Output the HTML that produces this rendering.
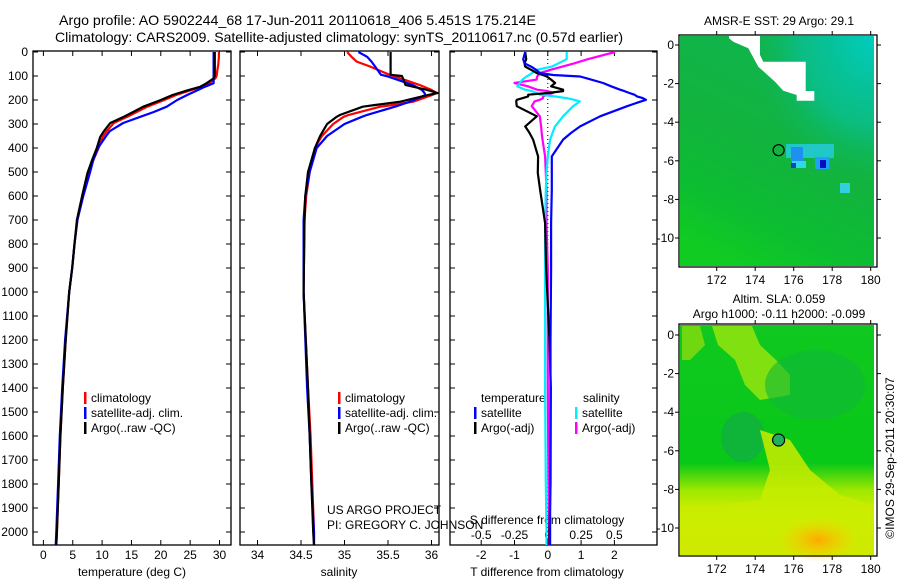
<!DOCTYPE html>
<html><head><meta charset="utf-8"><style>
html,body{margin:0;padding:0;background:#fff;}
svg{display:block;font-family:"Liberation Sans",sans-serif;}
</style></head><body>
<svg id="fig" width="900" height="580" viewBox="0 0 900 580" xmlns="http://www.w3.org/2000/svg">
<defs>
<clipPath id="c1"><rect x="33" y="45" width="198" height="500"/></clipPath>
<clipPath id="c2"><rect x="240" y="45" width="199" height="500"/></clipPath>
<clipPath id="c3"><rect x="450" y="45" width="207" height="500"/></clipPath>
<linearGradient id="sstg" x1="0.7" y1="0" x2="0.3" y2="1">
<stop offset="0" stop-color="#10b450"/><stop offset="0.5" stop-color="#12b43e"/><stop offset="0.8" stop-color="#0cbe30"/><stop offset="1" stop-color="#10cc22"/></linearGradient>
<radialGradient id="teal" cx="1" cy="0" r="0.65"><stop offset="0" stop-color="#00ccc0"/><stop offset="0.6" stop-color="#08c098" stop-opacity="0.7"/><stop offset="1" stop-color="#10b450" stop-opacity="0"/></radialGradient>
<linearGradient id="slag" x1="0" y1="0" x2="0" y2="1">
<stop offset="0" stop-color="#10c820"/><stop offset="0.6" stop-color="#08c818"/><stop offset="0.72" stop-color="#a0e800"/><stop offset="0.85" stop-color="#e0f000"/><stop offset="1" stop-color="#f0d800"/></linearGradient>
<radialGradient id="org" cx="0.5" cy="0.5" r="0.5"><stop offset="0" stop-color="#ffa800"/><stop offset="1" stop-color="#ffd000" stop-opacity="0"/></radialGradient>
</defs>
<rect width="900" height="580" fill="#fff"/>
<text x="59" y="25" font-size="14" textLength="477" lengthAdjust="spacingAndGlyphs">Argo profile: AO 5902244_68 17-Jun-2011 20110618_406 5.451S 175.214E</text>
<text x="55" y="42" font-size="14" textLength="568" lengthAdjust="spacingAndGlyphs">Climatology: CARS2009. Satellite-adjusted climatology: synTS_20110617.nc (0.57d earlier)</text>
<g id="axes"></g>
<g id="lines"></g>
<g id="maps"></g>
</svg>
<script>
// ---- data ----
const depthT = [0,20,50,80,100,110,130,145,160,179,200,228,250,270,296,330,353,400,450,505,600,700,800,900,1000,1200,1400,1600,1800,2000,2055];
const tempClim = [29.9,29.9,29.8,29.6,29.5,29.3,28.2,27.0,25.0,22.6,20.6,17.7,15.9,14.3,12.0,10.8,10.1,9.4,8.5,7.6,6.7,5.8,5.3,4.9,4.4,3.8,3.3,2.9,2.6,2.3,2.2];
const tempSat = [29.0,29.0,29.0,29.0,29.0,29.0,29.0,27.5,26.2,24.5,22.8,21.0,18.8,16.5,13.6,11.3,10.6,9.3,8.5,7.9,6.8,5.8,5.3,4.9,4.4,3.7,3.2,2.8,2.5,2.2,2.1];
const tempArgo = [29.2,29.2,29.2,29.2,29.2,29.0,27.8,26.7,24.5,22.0,20.0,17.0,15.3,13.7,11.4,10.3,9.7,9.1,8.3,7.5,6.6,5.7,5.3,4.9,4.4,3.8,3.3,2.9,2.6,2.3,2.2];

const depthS = [0,20,40,60,95,100,117,137,158,171,180,207,221,228,262,270,300,350,400,500,600,700,1000,1400,1600,1800,2000,2055];
const salClim = [35.03,35.08,35.14,35.29,35.52,35.56,35.70,35.86,36.00,36.06,36.00,35.79,35.55,35.41,35.05,34.99,34.87,34.74,34.66,34.60,34.56,34.54,34.53,34.58,34.61,34.63,34.65,34.65];
const salSat = [35.16,35.26,35.31,35.35,35.42,35.48,35.62,35.78,35.89,35.92,35.93,35.75,35.64,35.58,35.26,35.20,35.00,34.80,34.68,34.60,34.55,34.53,34.53,34.57,34.60,34.62,34.65,34.65];
const salArgo = [35.53,35.53,35.53,35.53,35.53,35.66,35.68,35.70,35.95,36.07,35.95,35.64,35.35,35.21,34.95,34.91,34.80,34.72,34.66,34.58,34.55,34.54,34.53,34.58,34.60,34.62,34.64,34.65];

const depthD = [0,30,47,61,74,88,96,102,115,129,143,157,163,171,178,185,192,199,206,226,268,310,337,365,435,504,574,713,900,1200,1400,1800,2000,2055];
const dTSat = [-0.68,-0.74,-0.7,-0.5,-0.35,-0.23,0.16,0.97,1.3,1.66,1.9,2.17,2.3,2.45,2.6,2.68,2.85,2.95,2.8,2.38,1.57,0.97,0.7,0.46,0.12,0.12,0.12,0.1,0.1,0.08,0.08,0.07,0.07,0.07];
const dTArgo = [-0.68,-0.65,-0.7,-0.68,-0.5,-0.33,-0.15,-0.03,0.1,0.22,0.1,0.46,0.46,0.0,-0.59,-0.59,-0.75,-0.93,-0.95,-0.93,-0.33,-0.68,-0.55,-0.44,-0.29,-0.3,-0.23,-0.08,-0.05,0.05,0.09,0.08,0.05,0.05];
const dSSat = [0.142,0.142,0.08,0.03,-0.083,-0.12,-0.14,-0.16,-0.19,-0.21,-0.23,-0.17,-0.12,-0.08,-0.06,0.05,0.14,0.2,0.24,0.19,0.115,0.054,0.035,0.017,0.0,-0.01,-0.015,-0.02,-0.02,-0.02,-0.02,-0.015,-0.01,-0.01];
const dSArgo = [0.505,0.3,0.2,0.11,0.02,-0.06,-0.07,-0.08,-0.083,-0.25,-0.15,-0.08,0.0,0.04,0.0,-0.036,-0.036,-0.06,-0.1,-0.12,-0.06,-0.05,-0.046,-0.04,-0.02,-0.015,-0.01,-0.01,0,0,0,0.005,0.01,0.01];

const depthTicks = [0,100,200,300,400,500,600,700,800,900,1000,1100,1200,1300,1400,1500,1600,1700,1800,1900,2000];
const tempTicks = [0,5,10,15,20,25,30];
const salTicks = [34,34.5,35,35.5,36];
const salTickLabels = ["34","34.5","35","35.5","36"];
const tdTicks = [-2,-1,0,1,2];
const sdTicks = [-0.5,-0.25,0,0.25,0.5];
const sdTickLabels = ["-0.5","-0.25","0","0.25","0.5"];
const lonTicks = [172,174,176,178,180];
const latTicks = [0,-2,-4,-6,-8,-10];

// ---- scales ----
const yD = d => 52 + d*0.24;
const xT = t => 43.4 + t*5.87;
const xS = s => 257.5 + (s-34)*87;
const xTD = v => 547.8 + v*33.3;
const xSD = v => 547.8 + v*133.2;
const NS = "http://www.w3.org/2000/svg";
function mk(tag, attrs, parent){ const e=document.createElementNS(NS,tag); for(const k in attrs) e.setAttribute(k,attrs[k]); parent.appendChild(e); return e; }
const axes = document.getElementById('axes');
const lines = document.getElementById('lines');
const maps = document.getElementById('maps');

function txt(x,y,s,size,anchor,parent,name){ const t=mk('text',{x:x,y:y,'font-size':size,'text-anchor':anchor||'start'},parent); t.textContent=s;
  
  
  return t; }

const panels = [[33,231,'c1','temperature-panel'],[240,439,'c2','salinity-panel'],[450,657,'c3','difference-panel']];
panels.forEach(p=>{
  const r = mk('rect',{x:p[0],y:51,width:p[1]-p[0],height:494,fill:'none',stroke:'#000','stroke-width':1.3},axes);
  
  
  depthTicks.forEach(d=>{
    mk('line',{x1:p[0],x2:p[0]+5,y1:yD(d),y2:yD(d),stroke:'#000'},axes);
    mk('line',{x1:p[1]-5,x2:p[1],y1:yD(d),y2:yD(d),stroke:'#000'},axes);
  });
});
depthTicks.forEach(d=>{ txt(28, yD(d)+4, String(d), 12, 'end', axes, 'depth-tick-label'); });
tempTicks.forEach(t=>{
  mk('line',{x1:xT(t),x2:xT(t),y1:51,y2:56,stroke:'#000'},axes);
  mk('line',{x1:xT(t),x2:xT(t),y1:540,y2:545,stroke:'#000'},axes);
  txt(xT(t), 559, String(t), 12, 'middle', axes, 'temperature-tick-label');
});
salTicks.forEach((s,i)=>{
  mk('line',{x1:xS(s),x2:xS(s),y1:51,y2:56,stroke:'#000'},axes);
  mk('line',{x1:xS(s),x2:xS(s),y1:540,y2:545,stroke:'#000'},axes);
  txt(xS(s), 559, salTickLabels[i], 12, 'middle', axes, 'salinity-tick-label');
});
tdTicks.forEach(t=>{
  mk('line',{x1:xTD(t),x2:xTD(t),y1:51,y2:56,stroke:'#000'},axes);
  mk('line',{x1:xTD(t),x2:xTD(t),y1:540,y2:545,stroke:'#000'},axes);
  txt(xTD(t), 559, String(t), 12, 'middle', axes, 't-diff-tick-label');
});
sdTicks.forEach((s,i)=>{ txt(xSD(s), 539, sdTickLabels[i], 12, 'middle', axes, 's-diff-tick-label'); });
txt(132, 576, 'temperature (deg C)', 12, 'middle', axes, 'x-axis-title-temperature');
txt(339, 576, 'salinity', 12, 'middle', axes, 'x-axis-title-salinity');
txt(547, 576, 'T difference from climatology', 12, 'middle', axes, 'x-axis-title-t-diff');
txt(547, 524, 'S difference from climatology', 12, 'middle', axes, 's-diff-axis-title');
mk('line',{x1:xTD(0),x2:xTD(0),y1:51,y2:545,stroke:'#000','stroke-dasharray':'1,3'},axes);

function prof(depths, vals, xf, color, clip, name){
  const pts = depths.map((d,i)=>xf(vals[i]).toFixed(1)+','+yD(d).toFixed(1)).join(' ');
  const pl = mk('polyline',{points:pts,fill:'none',stroke:color,'stroke-width':2.2,'clip-path':'url(#'+clip+')','stroke-linejoin':'round'},lines);
  
  
}
prof(depthT,tempClim,xT,'#ff0000','c1','temperature-climatology-line');
prof(depthT,tempSat,xT,'#0000ff','c1','temperature-satellite-line');
prof(depthT,tempArgo,xT,'#000000','c1','temperature-argo-line');
prof(depthS,salClim,xS,'#ff0000','c2','salinity-climatology-line');
prof(depthS,salSat,xS,'#0000ff','c2','salinity-satellite-line');
prof(depthS,salArgo,xS,'#000000','c2','salinity-argo-line');
prof(depthD,dSArgo,xSD,'#ff00ff','c3','s-diff-argo-line');
prof(depthD,dSSat,xSD,'#00eeff','c3','s-diff-satellite-line');
prof(depthD,dTArgo,xTD,'#000000','c3','t-diff-argo-line');
prof(depthD,dTSat,xTD,'#0000ff','c3','t-diff-satellite-line');

function leg(x,y,color,label,name){
  mk('rect',{x:x,y:y-10,width:2.5,height:12,fill:color},axes);
  txt(x+7,y,label,12,'start',axes,name);
}
leg(84,402,'#ff0000','climatology','legend-climatology');
leg(84,417,'#0000ff','satellite-adj. clim.','legend-satellite-adj');
leg(84,432,'#000000','Argo(..raw -QC)','legend-argo');
leg(338,402,'#ff0000','climatology','legend-climatology-2');
leg(338,417,'#0000ff','satellite-adj. clim.','legend-satellite-adj-2');
leg(338,432,'#000000','Argo(..raw -QC)','legend-argo-2');
txt(481,402,'temperature',12,'start',axes,'legend-temperature-header');
txt(583,402,'salinity',12,'start',axes,'legend-salinity-header');
leg(474,417,'#0000ff','satellite','legend-t-satellite');
leg(474,432,'#000000','Argo(-adj)','legend-t-argo');
leg(575,417,'#00eeff','satellite','legend-s-satellite');
leg(575,432,'#ff00ff','Argo(-adj)','legend-s-argo');
txt(327,514,'US ARGO PROJECT',12,'start',axes,'project-credit');
txt(327,529,'PI: GREGORY C. JOHNSON',12,'start',axes,'pi-credit');

// ---- maps ----
const lonX = lon => 716.7 + (lon-172)*19.25;
function mapAxes(top, lat0, name){
  const latY = lat => lat0 - lat*19.3;
  const fr = mk('rect',{x:679,y:top,width:198,height:232,fill:'none',stroke:'#000','stroke-width':1.3},maps);
  
  
  lonTicks.forEach(l=>{
    mk('line',{x1:lonX(l),x2:lonX(l),y1:top-4,y2:top,stroke:'#000'},maps);
    mk('line',{x1:lonX(l),x2:lonX(l),y1:top+232,y2:top+236,stroke:'#000'},maps);
    txt(lonX(l), top+249, String(l), 12, 'middle', maps, name+'-lon-label');
  });
  latTicks.forEach(l=>{
    mk('line',{x1:675,x2:679,y1:latY(l),y2:latY(l),stroke:'#000'},maps);
    mk('line',{x1:877,x2:881,y1:latY(l),y2:latY(l),stroke:'#000'},maps);
    txt(674, latY(l)+4, String(l), 12, 'end', maps, name+'-lat-label');
  });
}
const sst = mk('g',{},maps);


mk('rect',{x:680,y:36,width:194,height:230,fill:'url(#sstg)'},sst);
mk('rect',{x:680,y:36,width:194,height:230,fill:'url(#teal)'},sst);
const P = s => s.split(' ').map(p=>{const [a,b]=p.split(',');return (a/3+660).toFixed(1)+','+(b/3+20).toFixed(1);}).join(' ');
mk('polygon',{points:P('207,47 300,47 300,105 310,125 437,125 437,213 463,213 463,242 410,242 410,225 370,212 345,185 295,140 265,85 220,65 207,55'),fill:'#fff'},sst);
mk('rect',{x:786,y:144,width:48,height:14,fill:'#20c8c8'},sst);
mk('rect',{x:791,y:147,width:12,height:14,fill:'#2090f0'},sst);
mk('rect',{x:815,y:157,width:14,height:12,fill:'#20a0f8'},sst);
mk('rect',{x:792,y:161,width:14,height:7,fill:'#30d8e8'},sst);
mk('rect',{x:820,y:160,width:6,height:8,fill:'#0010c0'},sst);
mk('rect',{x:791,y:163,width:5,height:5,fill:'#1040d0'},sst);
mk('rect',{x:840,y:183,width:10,height:10,fill:'#30d0e0'},sst);
mk('circle',{cx:778.6,cy:150.2,r:5.5,fill:'none',stroke:'#000','stroke-width':1.2},sst);
mapAxes(35, 45, 'sst-map');
txt(779, 25, 'AMSR-E SST: 29 Argo: 29.1', 12, 'middle', maps, 'sst-map-title');

const sla = mk('g',{},maps);


mk('rect',{x:680,y:325,width:194,height:230,fill:'url(#slag)'},sla);
mk('polygon',{points:'712,326 752,326 760,345 776,360 790,375 790,395 760,400 745,385 735,360 718,345',fill:'#80e010'},sla);
mk('polygon',{points:'682,326 700,326 705,345 690,360 682,360',fill:'#70d810'},sla);
mk('ellipse',{cx:743,cy:437,rx:22,ry:25,fill:'#10b040',opacity:0.8},sla);
mk('ellipse',{cx:815,cy:385,rx:50,ry:35,fill:'#10b838',opacity:0.6},sla);
mk('polygon',{points:'760,430 790,440 810,470 840,495 874,505 874,555 680,555 680,505 720,505 760,500 770,470',fill:'#c8ec00',opacity:0.85},sla);
mk('ellipse',{cx:818,cy:540,rx:40,ry:22,fill:'url(#org)'},sla);
mk('circle',{cx:778.6,cy:440,r:6,fill:'#20b060',stroke:'#000','stroke-width':1.2},sla);
mapAxes(324, 335, 'sla-map');
txt(779, 303, 'Altim. SLA: 0.059', 12, 'middle', maps, 'sla-map-title-1');
txt(779, 318, 'Argo h1000: -0.11 h2000: -0.099', 12, 'middle', maps, 'sla-map-title-2');
const cr = txt(0,0,'©IMOS 29-Sep-2011 20:30:07',12,'middle',maps,'timestamp-credit');
cr.setAttribute('transform','translate(894,458) rotate(-90)');
</script>
</body></html>
